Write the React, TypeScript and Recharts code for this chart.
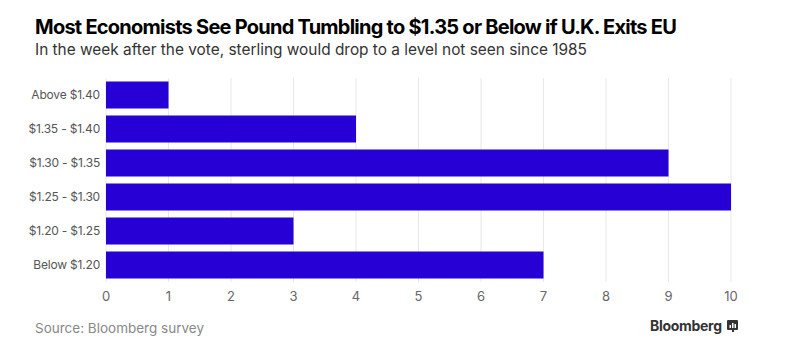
import React from 'react';
import { BarChart, Bar, XAxis, YAxis, CartesianGrid } from 'recharts';

const ranges = ['Above $1.40', '$1.35 - $1.40', '$1.30 - $1.35', '$1.25 - $1.30', '$1.20 - $1.25', 'Below $1.20'];
const economists = [1, 4, 9, 10, 3, 7];
const xTicks = [0, 1, 2, 3, 4, 5, 6, 7, 8, 9, 10];

const data = ranges.map((range, i) => ({ range, count: economists[i] }));

const font = 'Inter, "Liberation Sans", Arial, sans-serif';

export default function App() {
  return (
    <div style={{ position: 'absolute', left: 0, top: 0, width: 787, height: 355, background: '#fff', fontFamily: font }}>
      <div style={{ position: 'absolute', left: 35, top: 15, fontSize: 20, fontWeight: 700, letterSpacing: -0.75, color: '#000', whiteSpace: 'nowrap' }}>
        Most Economists See Pound Tumbling to $1.35 or Below if U.K. Exits EU
      </div>
      <div style={{ position: 'absolute', left: 35, top: 40, fontSize: 15.4, color: '#333', whiteSpace: 'nowrap' }}>
        In the week after the vote, sterling would drop to a level not seen since 1985
      </div>
      <BarChart
        width={787}
        height={355}
        data={data}
        layout="vertical"
        margin={{ top: 78, right: 56, bottom: 43, left: 0 }}
        barCategoryGap="10%"
      >
        <CartesianGrid horizontal={false} stroke="#e8e8e8" />
        <XAxis
          type="number"
          domain={[0, 10]}
          ticks={xTicks}
          axisLine={false}
          tickLine={false}
          tickSize={0}
          tickMargin={10}
          height={30}
          tick={{ fill: '#666', fontSize: 13, fontFamily: font }}
        />
        <YAxis
          type="category"
          dataKey="range"
          width={106}
          axisLine={false}
          tickLine={false}
          tickSize={0}
          tickMargin={6}
          tick={{ fill: '#555', fontSize: 12, letterSpacing: -0.2, fontFamily: font }}
        />
        <Bar dataKey="count" fill="#2700d6" isAnimationActive={false} />
      </BarChart>
      <div style={{ position: 'absolute', left: 35, top: 320, fontSize: 13.5, color: '#888', whiteSpace: 'nowrap' }}>
        Source: Bloomberg survey
      </div>
      <div style={{ position: 'absolute', left: 650, top: 317, fontSize: 14, fontWeight: 700, color: '#333', letterSpacing: -0.3, whiteSpace: 'nowrap', display: 'flex', alignItems: 'center' }}>
        <span>Bloomberg</span>
        <svg width={11} height={12} style={{ marginLeft: 5 }}>
          <rect x={0} y={0} width={11} height={10} rx={1} fill="#333" />
          <rect x={5} y={10} width={2} height={2} fill="#333" />
          <rect x={2.5} y={5} width={1.5} height={3} fill="#fff" />
          <rect x={5} y={3} width={1.5} height={5} fill="#fff" />
          <rect x={7.5} y={4} width={1.5} height={4} fill="#fff" />
        </svg>
      </div>
    </div>
  );
}
